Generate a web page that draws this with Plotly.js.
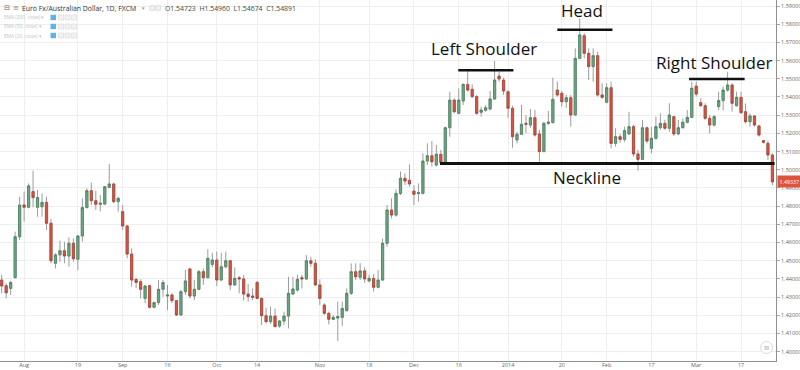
<!DOCTYPE html>
<html><head><meta charset="utf-8">
<script src="https://cdn.plot.ly/plotly-3.0.1.min.js"></script>
<style>html,body{margin:0;padding:0;background:#fff}#chart{width:800px;height:370px}</style>
</head><body><div id="chart"></div>
<script>
// EUR/AUD daily candles, late Jul 2013 - late Mar 2014 (trading-day order)
const openP = [
1.4394,1.4363,1.4348,1.4407,1.4632,1.4806,1.4794,1.4880,1.4794,1.4797,
1.4821,1.4706,1.4486,1.4532,1.4555,1.4526,1.4596,1.4508,1.4636,1.4792,
1.4885,1.4830,1.4810,1.4812,1.4903,1.4922,1.4825,1.4770,1.4691,1.4537,
1.4398,1.4385,1.4293,1.4363,1.4244,1.4270,1.4343,1.4306,1.4312,1.4281,
1.4202,1.4330,1.4455,1.4306,1.4343,1.4440,1.4407,1.4480,1.4504,1.4394,
1.4467,1.4500,1.4367,1.4407,1.4400,1.4317,1.4306,1.4381,1.4293,1.4198,
1.4165,1.4196,1.4141,1.4169,1.4196,1.4317,1.4339,1.4407,1.4400,1.4500,
1.4486,1.4367,1.4257,1.4211,1.4178,1.4185,1.4189,1.4226,1.4321,1.4440,
1.4409,1.4444,1.4389,1.4403,1.4354,1.4394,1.4596,1.4779,1.4751,1.4870,
1.4953,1.4942,1.4883,1.4869,1.4870,1.5048,1.5077,1.5026,1.5085,1.5035,
1.5231,1.5383,1.5310,1.5378,1.5469,1.5442,1.5402,1.5316,1.5327,1.5334,
1.5389,1.5515,1.5493,1.5429,1.5338,1.5164,1.5195,1.5255,1.5246,1.5286,
1.5197,1.5100,1.5255,1.5259,1.5438,1.5420,1.5374,1.5396,1.5301,1.5612,
1.5737,1.5640,1.5567,1.5627,1.5411,1.5371,1.5451,1.5145,1.5182,1.5167,
1.5197,1.5237,1.5087,1.5057,1.5231,1.5118,1.5173,1.5231,1.5255,1.5228,
1.5292,1.5197,1.5231,1.5261,1.5288,1.5460,1.5369,1.5352,1.5283,1.5246,
1.5347,1.5380,1.5438,1.5466,1.5352,1.5398,1.5319,1.5264,1.5296,1.5241,
1.5160,1.5145,1.5081];
const highP = [
1.4422,1.4376,1.4390,1.4660,1.4852,1.4880,1.4925,1.4995,1.4889,1.4870,
1.4852,1.4729,1.4541,1.4610,1.4605,1.4629,1.4623,1.4641,1.4843,1.4898,
1.4929,1.4885,1.4861,1.4911,1.5032,1.4929,1.4852,1.4806,1.4696,1.4568,
1.4403,1.4398,1.4367,1.4367,1.4275,1.4394,1.4394,1.4367,1.4321,1.4284,
1.4339,1.4449,1.4460,1.4394,1.4449,1.4458,1.4563,1.4544,1.4550,1.4544,
1.4550,1.4504,1.4464,1.4416,1.4422,1.4372,1.4348,1.4389,1.4299,1.4242,
1.4248,1.4238,1.4174,1.4220,1.4412,1.4412,1.4422,1.4422,1.4531,1.4522,
1.4508,1.4398,1.4266,1.4220,1.4202,1.4275,1.4275,1.4348,1.4486,1.4486,
1.4486,1.4464,1.4422,1.4427,1.4449,1.4623,1.4806,1.4843,1.4892,1.4990,
1.4980,1.5030,1.4916,1.4925,1.5090,1.5145,1.5158,1.5136,1.5109,1.5237,
1.5429,1.5393,1.5447,1.5475,1.5548,1.5469,1.5411,1.5347,1.5356,1.5433,
1.5598,1.5539,1.5506,1.5438,1.5352,1.5209,1.5356,1.5301,1.5334,1.5328,
1.5219,1.5264,1.5323,1.5506,1.5484,1.5433,1.5411,1.5411,1.5667,1.5832,
1.5750,1.5667,1.5667,1.5649,1.5475,1.5475,1.5484,1.5228,1.5197,1.5237,
1.5319,1.5246,1.5109,1.5274,1.5237,1.5237,1.5292,1.5310,1.5274,1.5365,
1.5296,1.5274,1.5283,1.5328,1.5484,1.5484,1.5393,1.5365,1.5301,1.5301,
1.5429,1.5457,1.5539,1.5475,1.5429,1.5429,1.5365,1.5310,1.5301,1.5246,
1.5164,1.5160,1.5090];
const lowP = [
1.4321,1.4293,1.4312,1.4403,1.4614,1.4715,1.4788,1.4794,1.4742,1.4742,
1.4669,1.4486,1.4458,1.4495,1.4486,1.4467,1.4495,1.4449,1.4605,1.4788,
1.4806,1.4779,1.4770,1.4806,1.4898,1.4816,1.4770,1.4669,1.4513,1.4357,
1.4348,1.4293,1.4266,1.4238,1.4238,1.4257,1.4302,1.4229,1.4266,1.4196,
1.4198,1.4312,1.4293,1.4284,1.4339,1.4367,1.4403,1.4464,1.4361,1.4390,
1.4458,1.4339,1.4361,1.4321,1.4281,1.4275,1.4284,1.4288,1.4147,1.4156,
1.4152,1.4134,1.4132,1.4147,1.4128,1.4312,1.4330,1.4348,1.4394,1.4467,
1.4361,1.4257,1.4202,1.4150,1.4174,1.4059,1.4141,1.4220,1.4312,1.4394,
1.4394,1.4379,1.4381,1.4330,1.4348,1.4390,1.4577,1.4733,1.4742,1.4861,
1.4916,1.4907,1.4806,1.4825,1.4865,1.5026,1.5017,1.5017,1.5035,1.5026,
1.5182,1.5310,1.5305,1.5356,1.5429,1.5393,1.5301,1.5292,1.5319,1.5328,
1.5383,1.5484,1.5411,1.5283,1.5121,1.5145,1.5191,1.5200,1.5231,1.5182,
1.5045,1.5096,1.5246,1.5255,1.5402,1.5347,1.5341,1.5237,1.5297,1.5609,
1.5612,1.5493,1.5484,1.5402,1.5389,1.5365,1.5118,1.5127,1.5149,1.5154,
1.5191,1.5072,1.4995,1.5054,1.5145,1.5090,1.5164,1.5219,1.5219,1.5209,
1.5186,1.5191,1.5228,1.5255,1.5283,1.5402,1.5347,1.5274,1.5200,1.5237,
1.5328,1.5328,1.5429,1.5319,1.5347,1.5306,1.5255,1.5237,1.5237,1.5182,
1.5145,1.5054,1.4915];
const closeP = [
1.4361,1.4324,1.4380,1.4632,1.4806,1.4794,1.4911,1.4847,1.4847,1.4821,
1.4706,1.4500,1.4532,1.4555,1.4526,1.4596,1.4511,1.4636,1.4792,1.4885,
1.4830,1.4810,1.4816,1.4907,1.4922,1.4825,1.4843,1.4691,1.4537,1.4394,
1.4381,1.4343,1.4361,1.4244,1.4270,1.4343,1.4380,1.4312,1.4281,1.4202,
1.4330,1.4389,1.4306,1.4343,1.4440,1.4407,1.4513,1.4504,1.4394,1.4467,
1.4500,1.4367,1.4403,1.4400,1.4317,1.4303,1.4299,1.4293,1.4198,1.4165,
1.4196,1.4138,1.4169,1.4196,1.4321,1.4345,1.4398,1.4400,1.4500,1.4486,
1.4367,1.4293,1.4211,1.4178,1.4189,1.4193,1.4238,1.4321,1.4440,1.4412,
1.4444,1.4400,1.4403,1.4354,1.4394,1.4596,1.4779,1.4751,1.4870,1.4953,
1.4938,1.4922,1.4865,1.4874,1.5048,1.5077,1.5044,1.5085,1.5041,1.5231,
1.5383,1.5319,1.5383,1.5469,1.5438,1.5402,1.5310,1.5328,1.5341,1.5389,
1.5493,1.5499,1.5433,1.5338,1.5182,1.5195,1.5250,1.5250,1.5286,1.5191,
1.5100,1.5255,1.5261,1.5387,1.5411,1.5374,1.5396,1.5301,1.5612,1.5741,
1.5640,1.5567,1.5627,1.5411,1.5398,1.5451,1.5145,1.5182,1.5167,1.5215,
1.5237,1.5087,1.5057,1.5231,1.5158,1.5173,1.5237,1.5255,1.5228,1.5301,
1.5197,1.5231,1.5261,1.5288,1.5448,1.5416,1.5352,1.5283,1.5246,1.5292,
1.5380,1.5438,1.5466,1.5365,1.5398,1.5314,1.5264,1.5296,1.5246,1.5191,
1.5151,1.5081,1.49337];

// x tick labels (positions are trading-day numbers)
const tickIdx  = [5,17,27,37,48,57,71,82,92,102,113,125,135,145,155,165];
const tickText = ['Aug','19','Sep','16','Oct','14','Nov','18','Dec','16','2014','20','Feb','17','Mar','17'];

// head & shoulders markup: [label, x(day), y(price)]
const patternLabels = [['Left Shoulder',107.7,1.5664],['Head',129.5,1.5874],['Right Shoulder',159.1,1.5587],['Neckline',130.6,1.4955]];
// levels: [x0, x1, price, width]
const patternLines = [[101.9,114.2,1.5547,2.5],[124.0,136.3,1.5770,2.5],[153.4,165.8,1.5499,2.5],[97.8,172.5,1.5034,3]];

const lastPrice = 1.49337;
const headerText = 'Euro Fx/Australian Dollar, 1D, FXCM';
const ohlcText = 'O1.54723  H1.54960  L1.54674  C1.54891';
const emaLabels = ['EMA (200, close) ▾','EMA (50, close) ▾','EMA (20, close) ▾'];

const xIdx = openP.map((_, i) => i);
const bodyTop = openP.map((o, i) => Math.max(o, closeP[i]));
const bodyBot = openP.map((o, i) => Math.min(o, closeP[i]));

const wicks = {
  type:'candlestick', x:xIdx, open:openP, high:highP, low:lowP, close:closeP,
  increasing:{line:{color:'#9c9c9c', width:1}, fillcolor:'rgba(0,0,0,0)'},
  decreasing:{line:{color:'#9c9c9c', width:1}, fillcolor:'rgba(0,0,0,0)'},
  whiskerwidth:0, hoverinfo:'skip', showlegend:false
};
const bodies = {
  type:'candlestick', x:xIdx, open:openP, high:bodyTop, low:bodyBot, close:closeP,
  increasing:{line:{color:'#3f7d55', width:0.6}, fillcolor:'#6ba583'},
  decreasing:{line:{color:'#a93a2c', width:0.6}, fillcolor:'#d75442'},
  whiskerwidth:0, hoverinfo:'skip', showlegend:false
};

const annFont = {family:'"Open Sans", sans-serif', size:17, color:'#111'};
const annotations = patternLabels.map(a => ({
  text:a[0], x:a[1], y:a[2], xref:'x', yref:'y', showarrow:false,
  xanchor:'center', yanchor:'middle', font:annFont
}));

// header texts (paper coords)
const W = 776, H = 361;
const px = v => v / W, py = v => 1 - v / H;
annotations.push({text:headerText, x:px(20), y:py(8), xref:'paper', yref:'paper', showarrow:false,
  xanchor:'left', yanchor:'middle', font:{family:'"Open Sans", sans-serif', size:6.9, color:'#333'}});
annotations.push({text:'▾', x:px(140), y:py(8), xref:'paper', yref:'paper', showarrow:false,
  xanchor:'left', yanchor:'middle', font:{family:'"DejaVu Sans", sans-serif', size:5, color:'#999'}});
annotations.push({text:ohlcText, x:px(163), y:py(8), xref:'paper', yref:'paper', showarrow:false,
  xanchor:'left', yanchor:'middle', font:{family:'"Open Sans", sans-serif', size:6.9, color:'#3b4b3f'}});
annotations.push({text:'⊟', x:px(1.5), y:py(8), xref:'paper', yref:'paper', showarrow:false,
  xanchor:'left', yanchor:'middle', font:{family:'"DejaVu Sans", sans-serif', size:7, color:'#666'}});
annotations.push({text:'≡', x:px(10.5), y:py(8), xref:'paper', yref:'paper', showarrow:false,
  xanchor:'left', yanchor:'middle', font:{family:'"DejaVu Sans", sans-serif', size:7, color:'#888'}});
emaLabels.forEach((t, k) => {
  annotations.push({text:t, x:px(2), y:py(17.5 + 9*k), xref:'paper', yref:'paper', showarrow:false,
    xanchor:'left', yanchor:'middle', font:{family:'"Open Sans", sans-serif', size:4.8, color:'#c4c4c4'}});
});
annotations.push({text:String(lastPrice.toFixed(5)), x:1, y:lastPrice, xref:'paper', yref:'y', showarrow:false,
  xanchor:'left', yanchor:'middle', xshift:1, bgcolor:'#dc5440', borderpad:1.5,
  font:{family:'"Open Sans", sans-serif', size:5.3, color:'#fff'}});
annotations.push({text:'30', x:px(766.5), y:py(347.5), xref:'paper', yref:'paper', showarrow:false,
  xanchor:'center', yanchor:'middle', font:{family:'"Open Sans", sans-serif', size:4.5, color:'#888'}});

const shapes = patternLines.map(l => ({type:'line', xref:'x', yref:'y', x0:l[0], x1:l[1], y0:l[2], y1:l[2],
  line:{color:'#111', width:l[3]}}));
emaLabels.forEach((_, k) => {
  const yc = 17.5 + 9*k;
  shapes.push({type:'rect', xref:'paper', yref:'paper', x0:px(50.5), x1:px(56), y0:py(yc+2.7), y1:py(yc-2.7),
    line:{width:0}, fillcolor:'#5cb3e6'});
  [58.5, 65, 71.5].forEach(xx => shapes.push({type:'rect', xref:'paper', yref:'paper', x0:px(xx), x1:px(xx+5), y0:py(yc+2.5), y1:py(yc-2.5),
    line:{color:'#dcdcdc', width:0.7}, fillcolor:'#f2f2f2'}));
});
[150, 156].forEach(xx => shapes.push({type:'rect', xref:'paper', yref:'paper', x0:px(xx), x1:px(xx+4.5), y0:py(10.3), y1:py(5.7),
  line:{color:'#cfcfcf', width:0.7}, fillcolor:'#f3f3f3'}));
shapes.push({type:'circle', xref:'paper', yref:'paper', x0:px(760.5), x1:px(772.5), y0:py(353.5), y1:py(341.5),
  line:{color:'#d0d0d0', width:0.8}, fillcolor:'#fff'});

const tickFont = {family:'"Open Sans", sans-serif', size:5.5, color:'#666'};
const layout = {
  width:800, height:370,
  margin:{l:0, r:24, t:0, b:9, pad:0},
  paper_bgcolor:'#ffffff', plot_bgcolor:'#ffffff',
  showlegend:false, dragmode:false,
  xaxis:{range:[-0.38,172.8], rangeslider:{visible:false}, tickmode:'array', tickvals:tickIdx, ticktext:tickText,
    showgrid:true, gridcolor:'#eeeeee', gridwidth:1, zeroline:false, showline:true, linecolor:'#8f8f8f', linewidth:1,
    ticks:'', ticklabelstandoff:-2, tickfont:tickFont, automargin:false, fixedrange:true},
  yaxis:{side:'right', range:[1.3949,1.5933], tick0:1.40, dtick:0.01, tickformat:'.5f',
    showgrid:true, gridcolor:'#eeeeee', gridwidth:1, zeroline:false, showline:true, linecolor:'#8f8f8f', linewidth:1,
    ticks:'outside', ticklen:3, tickcolor:'#aaa', tickfont:tickFont, automargin:false, fixedrange:true},
  annotations:annotations, shapes:shapes
};

Plotly.newPlot('chart', [wicks, bodies], layout, {displayModeBar:false, staticPlot:true});
</script>
</body></html>
